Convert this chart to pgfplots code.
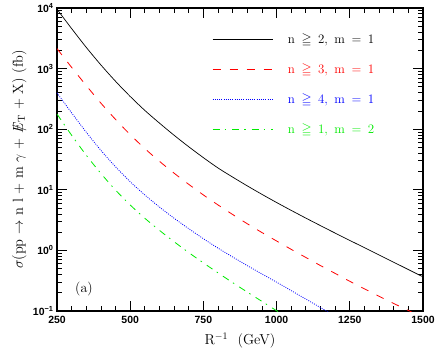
\documentclass[border=0pt]{standalone}
\usepackage{fontspec}
\usepackage{amsmath,amssymb}
\usepackage{pgfplots}
\usepackage{pgfplotstable}
\pgfplotsset{compat=1.18}
\usetikzlibrary{calc}
\newfontfamily\tickfont{Liberation Sans}
\definecolor{cred}{RGB}{255,0,0}
\definecolor{cblue}{RGB}{0,0,255}
\definecolor{cgreen}{RGB}{0,235,0}
\newcommand\gp{\hspace{6.5bp}}

% n>=2, m=1
\pgfplotstableread{
x y
250 9550
300 4571
350 2239
400 1148
450 617
500 347
550 204
600 126
650 79.4
700 51.3
750 33.9
800 22.9
850 16.2
900 11.6
950 8.41
1000 6.17
1050 4.57
1100 3.41
1150 2.56
1200 1.93
1250 1.46
1300 1.11
1350 0.839
1400 0.637
1450 0.483
1500 0.366
}\tabA
% n>=3, m=1
\pgfplotstableread{
x y
250 2138
300 1047
350 525
400 269
450 145
500 81.3
550 47.9
600 29.5
650 18.8
700 12.3
750 8.22
800 5.62
850 3.91
900 2.75
950 1.97
1000 1.43
1050 1.04
1100 0.764
1150 0.561
1200 0.417
1250 0.309
1300 0.232
1350 0.175
1400 0.133
1450 0.102
1500 0.078
}\tabB
% n>=4, m=1
\pgfplotstableread{
x y
250 398
300 186
350 89.1
400 44.7
450 24.0
500 13.6
550 8.22
600 5.19
650 3.39
700 2.28
750 1.56
800 1.09
850 0.778
900 0.561
950 0.408
1000 0.299
1050 0.217
1100 0.157
1150 0.114
1200 0.082
}\tabC
% n>=1, m=2
\pgfplotstableread{
x y
250 178
300 79.4
350 37.2
400 18.6
450 9.89
500 5.62
550 3.39
600 2.14
650 1.39
700 0.920
750 0.622
800 0.426
850 0.294
900 0.205
950 0.144
1000 0.101
1050 0.0714
}\tabD

\begin{document}
\begin{tikzpicture}
\begin{axis}[
    name=ax,
    scale only axis,
    width=366bp, height=303bp,
    xmin=250, xmax=1500,
    ymode=log, ymin=0.1, ymax=10000,
    xtick={250,500,750,1000,1250,1500},
    xticklabels={250,500,750,1000,1250,1500},
    minor x tick num=4,
    ytick={0.1,1,10,100,1000,10000},
    yticklabels={10\textsuperscript{−1},10\textsuperscript{0},10\textsuperscript{1},10\textsuperscript{2},10\textsuperscript{3},10\textsuperscript{4}},
    ticklabel style={font=\tickfont\bfseries\fontsize{10.5}{12}\selectfont},
    xticklabel style={yshift=-1.5bp},
    major tick length=10bp,
    minor tick length=5bp,
    every tick/.append style={black, line width=0.8bp},
    axis line style={line width=1.1bp},
    every axis x label/.style={at={(rel axis cs:0.5,-0.112)}, anchor=base,
        font=\fontsize{14.5}{17}\selectfont},
    every axis y label/.style={at={(rel axis cs:-0.0935,0.5)}, anchor=base, rotate=90,
        font=\fontsize{14.5}{17}\selectfont},
    xlabel={R$^{-1}$\ \ (GeV)},
    ylabel={$\sigma$(pp $\rightarrow$ n l + m $\gamma$ + \mbox{\ooalign{$E$\cr\hfil$/$\hfil\cr}}$_{\mathrm{T}}$ + X) (fb)},
    legend cell align=left,
    legend style={draw=none, fill=none, at={(rel axis cs:0.4235,0.918)}, anchor=north west,
        inner sep=0pt, row sep=17bp,
        nodes={inner sep=0pt, text height=10bp, text depth=3bp},
        font=\fontsize{13}{15}\selectfont},
    legend image code/.code={\draw[#1] (0bp,0bp) -- (60bp,0bp); \path (75bp,0bp);},
]
\addplot[black, line width=0.7bp, smooth] table[x=x,y=y] {\tabA};
\addlegendentry{n\gp$\geqq$\gp2,\gp m\gp=\gp1}
\addplot[cred, line width=0.8bp, smooth, dash pattern=on 8bp off 9bp] table[x=x,y=y] {\tabB};
\addlegendentry{\textcolor{cred}{n\gp$\geqq$\gp3,\gp m\gp=\gp1}}
\addplot[cblue, line width=0.8bp, smooth, dash pattern=on 0.9bp off 1.3bp] table[x=x,y=y] {\tabC};
\addlegendentry{\textcolor{cblue}{n\gp$\geqq$\gp4,\gp m\gp=\gp1}}
\addplot[cgreen, line width=0.8bp, smooth, dash pattern=on 7bp off 5bp on 1.5bp off 6bp] table[x=x,y=y] {\tabD};
\addlegendentry{\textcolor{cgreen}{n\gp$\geqq$\gp1,\gp m\gp=\gp2}}
\node[font=\fontsize{14}{16}\selectfont] at (axis cs:342,0.23) {(a)};
\end{axis}
\pgfresetboundingbox
\path ($(ax.south west)+(-57bp,-39bp)$) rectangle ($(ax.north east)+(13bp,8bp)$);
\end{tikzpicture}
\end{document}
